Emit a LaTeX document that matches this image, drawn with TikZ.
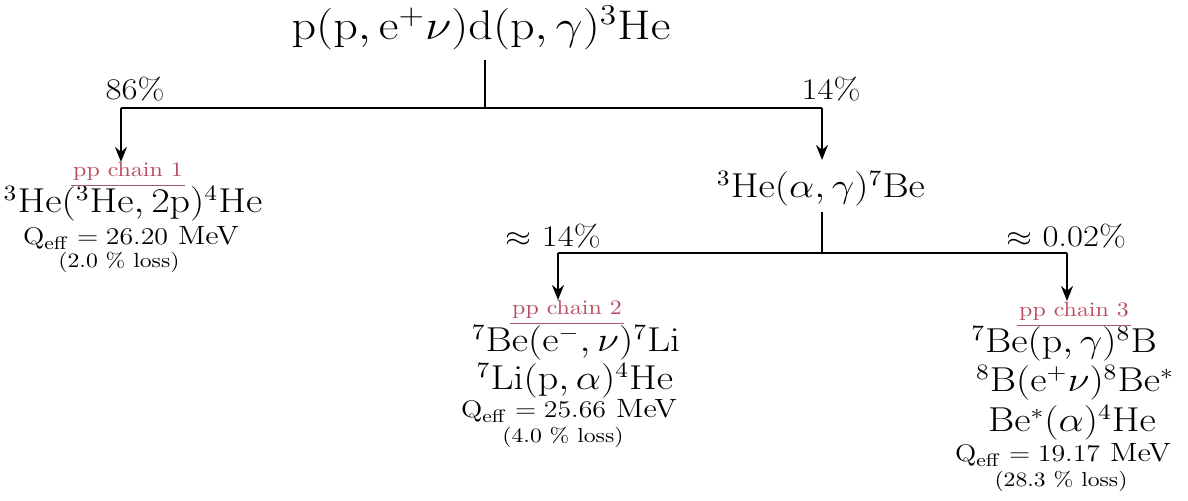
\documentclass[tikz,border=0pt]{standalone}
\usepackage{graphicx}
\usepackage{xcolor}
\definecolor{chainred}{RGB}{185,75,95}
\usepackage{tikz}
\usetikzlibrary{arrows.meta,positioning}

% the printed text is a little wider than it is tall
\newcommand{\hs}[1]{\scalebox{1.16}[1]{#1}}

\begin{document}
\begin{tikzpicture}[x=0.5pt,y=-0.5pt,
  reac/.style={anchor=base, inner sep=0pt, font=\fontsize{15.9}{19}\selectfont},
  title/.style={anchor=base, inner sep=0pt, font=\fontsize{20.3}{24}\selectfont},
  qline/.style={anchor=base, inner sep=0pt, font=\fontsize{13.2}{16}\selectfont},
  frac/.style={anchor=base, inner sep=0pt, font=\fontsize{15}{18}\selectfont},
  loss/.style={anchor=base, inner sep=0pt, font=\fontsize{10.2}{12}\selectfont},
  chain/.style={anchor=base, inner sep=0pt, text=chainred, font=\fontsize{10.3}{12}\selectfont},
  underl/.style={chainred!75!gray, line width=0.6pt},
  branch/.style={line width=1.1pt},
  feed/.style={-{Stealth[length=7.5pt,width=6pt]}, line width=1.1pt}
]
  \useasboundingbox (0,0) rectangle (1188,501);

  % top reaction and first split
  \node[title] (pp) at (481,40) {\hs{$\mathrm{p(p,e^{+}\nu)d(p,\gamma)^{3}He}$}};
  \node[frac] (f86) at (135,100) {\hs{86\%}};
  \node[frac] (f14) at (831,100) {\hs{14\%}};
  \coordinate (jA) at (485,108);
  \coordinate (lA) at (121,108);
  \coordinate (rA) at (822,108);

  % chain 1
  \node[chain] (c1) at (128,177) {\hs{pp chain 1}};
  \node[reac] (c1a) at (133,213) {\hs{$\mathrm{^{3}He(^{3}He,2p)^{4}He}$}};
  \node[qline] (c1q) at (131,245) {\hs{$\mathrm{Q_{eff}} = 26.20$ MeV}};
  \node[loss] (c1l) at (119,268) {\hs{(2.0 \% loss)}};

  % 3He + 4He and second split
  \node[reac] (be7) at (821,198) {\hs{$\mathrm{^{3}He(\alpha,\gamma)^{7}Be}$}};
  \node[frac] (f14b) at (553,247) {\hs{$\approx$ 14\%}};
  \node[frac] (f002) at (1066,247) {\hs{$\approx$ 0.02\%}};
  \coordinate (jB) at (822,253);
  \coordinate (lB) at (558,253);
  \coordinate (rB) at (1067,253);

  % chain 2
  \node[chain] (c2) at (567,315) {\hs{pp chain 2}};
  \node[reac] (c2a) at (576,352) {\hs{$\mathrm{^{7}Be(e^{-},\nu)^{7}Li}$}};
  \node[reac] (c2b) at (575,390) {\hs{$\mathrm{^{7}Li(p,\alpha)^{4}He}$}};
  \node[qline] (c2q) at (569,418) {\hs{$\mathrm{Q_{eff}} = 25.66$ MeV}};
  \node[loss] (c2l) at (563,443) {\hs{(4.0 \% loss)}};

  % chain 3
  \node[chain] (c3) at (1074,317) {\hs{pp chain 3}};
  \node[reac] (c3a) at (1064,353) {\hs{$\mathrm{^{7}Be(p,\gamma)^{8}B}$}};
  \node[reac] (c3b) at (1075,392) {\hs{$\mathrm{^{8}B(e^{+}\nu)^{8}Be^{*}}$}};
  \node[reac] (c3c) at (1072,432) {\hs{$\mathrm{Be^{*}(\alpha)^{4}He}$}};
  \node[qline] (c3q) at (1063,462) {\hs{$\mathrm{Q_{eff}} = 19.17$ MeV}};
  \node[loss] (c3l) at (1061,487) {\hs{(28.3 \% loss)}};

  % underlines of the chain names
  \foreach \c in {c1,c2,c3} {
    \draw[underl] ([shift={(-1pt,-4.4pt)}]\c.base west) -- ([shift={(1pt,-4.4pt)}]\c.base east);
  }

  \draw[branch] ([yshift=-10pt]pp.base -| jA) -- (jA);
  \draw[branch] (lA) -- (rA);
  \draw[feed] (lA) -- ([yshift=7.5pt]c1.base -| lA);
  \draw[feed] (rA) -- ([yshift=19pt]be7.base -| rA);
  \draw[branch] ([yshift=-7pt]be7.base -| jB) -- (jB);
  \draw[branch] (lB) -- (rB);
  \draw[feed] (lB) -- ([yshift=7.5pt]c2.base -| lB);
  \draw[feed] (rB) -- ([yshift=8pt]c3.base -| rB);
\end{tikzpicture}
\end{document}
